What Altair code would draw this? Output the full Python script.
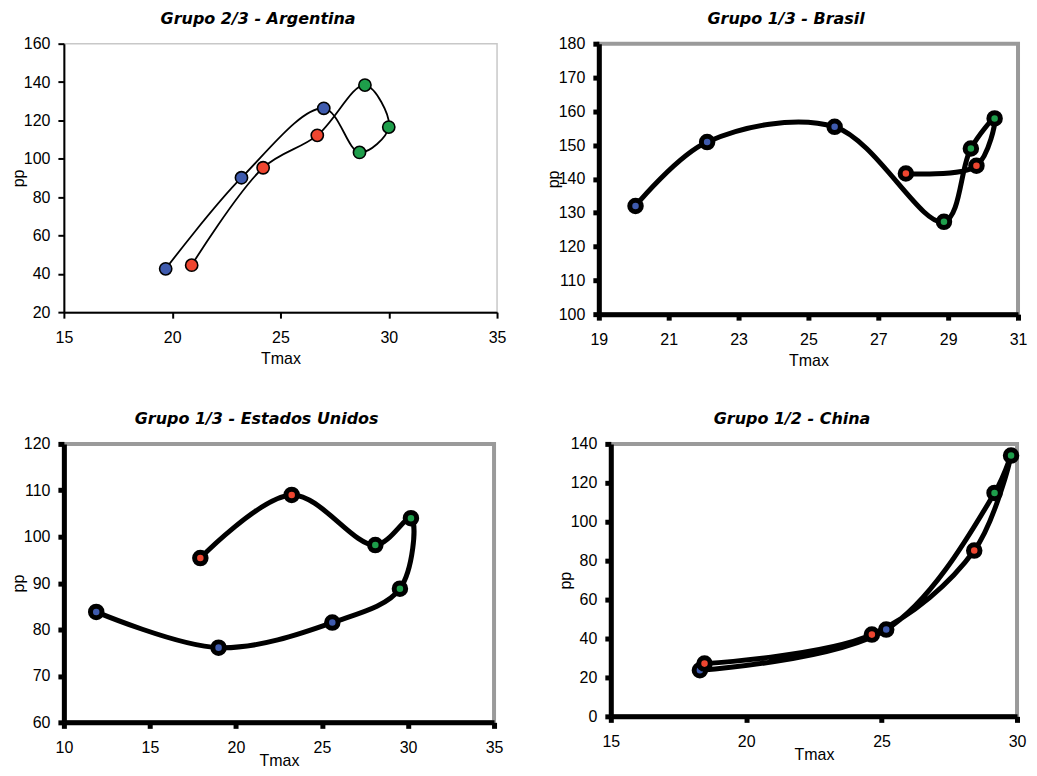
import altair as alt
import pandas as pd

# ---- data ----
arg_tmax = [19.7, 23.2, 27.0, 28.65, 30.0, 28.9, 26.7, 24.2, 20.9]
arg_pp = [42.6, 90.1, 126.3, 103.3, 116.5, 138.4, 112.2, 95.3, 44.5]
arg_grp = ["b", "b", "b", "g", "g", "g", "r", "r", "r"]

bra_tmax = [20.05, 22.1, 25.75, 28.88, 29.65, 30.33, 29.81, 27.79]
bra_pp = [132.0, 150.9, 155.4, 127.3, 149.0, 157.9, 143.9, 141.6]
bra_grp = ["b", "b", "b", "g", "g", "g", "r", "r"]

usa_tmax = [11.88, 18.99, 25.6, 29.53, 30.17, 28.1, 23.24, 17.93]
usa_pp = [83.8, 76.1, 81.5, 88.8, 104.0, 98.2, 109.0, 95.4]
usa_grp = ["b", "b", "b", "g", "g", "g", "r", "r"]

chn_tmax = [18.29, 25.17, 29.17, 29.78, 28.42, 24.64, 18.46]
chn_pp = [23.7, 44.6, 114.8, 134.0, 85.2, 42.0, 27.1]
chn_grp = ["b", "b", "g", "g", "r", "r", "r"]

grp_domain = ["b", "r", "g"]
grp_colors = ["#3F5BAE", "#EF4630", "#1E9E4B"]


def make_df(tmax, pp, grp):
    return pd.DataFrame({"Tmax": tmax, "pp": pp, "grp": grp, "idx": list(range(len(tmax)))})


def panel(df, title, xdom, xticks, ydom, yticks, w, h, thin, xtitle_pad):
    if thin:
        axw, tickw, frame_c, frame_w, line_w = 2, 2, "#C8C8C8", 1.5, 1.8
        pt_size, pt_sw = 150, 1.6
    else:
        axw, tickw, frame_c, frame_w, line_w = 5, 5, "#9A9A9A", 4, 5
        pt_size, pt_sw = 133, 5
    common = dict(
        domainColor="black", domainWidth=axw, tickColor="black", tickWidth=tickw,
        tickSize=6, grid=False, labelFont="Liberation Sans", labelFontSize=16,
        labelColor="black", titleFont="Liberation Sans", titleFontSize=16,
        titleFontWeight="normal", titleColor="black", zindex=1, labelFlush=False,
        labelOverlap=False,
    )
    base = alt.Chart(df).encode(
        x=alt.X("Tmax:Q", scale=alt.Scale(domain=xdom, nice=False, zero=False),
                axis=alt.Axis(values=xticks, title="Tmax", labelPadding=11,
                              titlePadding=xtitle_pad, **common)),
        y=alt.Y("pp:Q", scale=alt.Scale(domain=ydom, nice=False, zero=False),
                axis=alt.Axis(values=yticks, title="pp", labelPadding=8,
                              titlePadding=-3, **common)),
        order=alt.Order("idx:Q"),
    )
    line = base.mark_line(interpolate="catmull-rom", color="black", strokeWidth=line_w)
    pts = base.mark_circle(size=pt_size, stroke="black", strokeWidth=pt_sw, opacity=1).encode(
        color=alt.Color("grp:N", scale=alt.Scale(domain=grp_domain, range=grp_colors), legend=None)
    )
    return alt.layer(line, pts).properties(
        width=w, height=h,
        view=alt.ViewBackground(stroke=frame_c, strokeWidth=frame_w),
        title=alt.TitleParams(
            text=title, font="DejaVu Sans", fontSize=16, fontStyle="italic",
            fontWeight="bold", color="black", anchor="middle", frame="bounds", offset=9,
        ),
    )


a = panel(make_df(arg_tmax, arg_pp, arg_grp), "Grupo 2/3 - Argentina",
          [15, 35], [15, 20, 25, 30, 35], [20, 160], list(range(20, 161, 20)),
          434, 269, True, 5)
b = panel(make_df(bra_tmax, bra_pp, bra_grp), "Grupo 1/3 - Brasil",
          [19, 31], list(range(19, 32, 2)), [100, 180], list(range(100, 181, 10)),
          420, 271, False, 5)
c = panel(make_df(usa_tmax, usa_pp, usa_grp), "Grupo 1/3 - Estados Unidos",
          [10, 35], [10, 15, 20, 25, 30, 35], [60, 120], list(range(60, 121, 10)),
          431, 279, False, -3)
d = panel(make_df(chn_tmax, chn_pp, chn_grp), "Grupo 1/2 - China",
          [15, 30], [15, 20, 25, 30], [0, 140], list(range(0, 141, 20)),
          407, 273, False, -3)

row1 = alt.hconcat(a, b, spacing=36)
row2 = alt.hconcat(c, d, spacing=50)
chart = alt.vconcat(row1, row2, spacing=39).properties(padding=0, background="white")

chart.save("out.html", embed_options={"renderer": "svg", "actions": False})
